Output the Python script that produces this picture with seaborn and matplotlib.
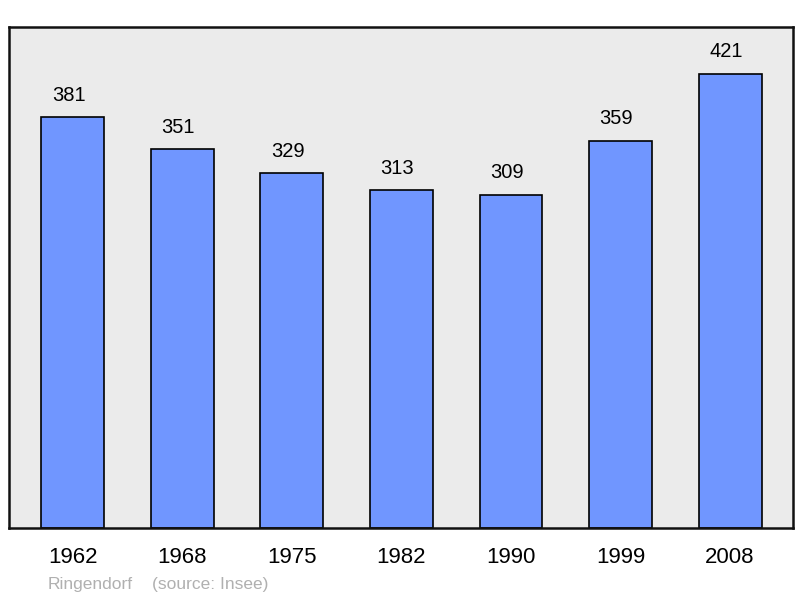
import matplotlib
matplotlib.use("Agg")
import matplotlib.pyplot as plt
import seaborn as sns
import pandas as pd

years = ["1962", "1968", "1975", "1982", "1990", "1999", "2008"]
population = [381, 351, 329, 313, 309, 359, 421]
footer_name = "Ringendorf"
footer_source = "(source: Insee)"

sns.set_style("white")
plt.rcParams['font.family'] = ['Liberation Sans', 'DejaVu Sans']
plt.rcParams['text.color'] = 'black'
plt.rcParams['xtick.color'] = 'black'

df = pd.DataFrame({"year": years, "pop": population})

fig = plt.figure(figsize=(8, 5.98), dpi=100)
ax = fig.add_axes([9/800, 1 - 528/598, 784/800, 501/598])
ax.set_facecolor("#ebebeb")

sns.barplot(data=df, x="year", y="pop", ax=ax, color="#7096ff", saturation=1,
            width=0.575, edgecolor="black", linewidth=1.2)

for p, v in zip(ax.patches, population):
    ax.annotate(str(v), (p.get_x() + p.get_width() / 2, v), xytext=(-3, 9),
                textcoords="offset points", ha="center", va="bottom", fontsize=14.5,
                color="black")

ax.set_xlim(-0.584, 6.575)
ax.set_ylim(0, 464.5)
ax.set_yticks([])
ax.set_xlabel("")
ax.set_ylabel("")
ax.tick_params(axis="x", length=0, labelsize=16, pad=14, labelcolor="black")
for s in ax.spines.values():
    s.set_visible(True)
    s.set_linewidth(1.8)
    s.set_color("#111111")

fig.text(48/800, 1 - 584/598, footer_name, color="#b0b0b0", fontsize=12.5, va="center")
fig.text(152/800, 1 - 584/598, footer_source, color="#b0b0b0", fontsize=12.5, va="center")

fig.savefig("out.png", dpi=100)
